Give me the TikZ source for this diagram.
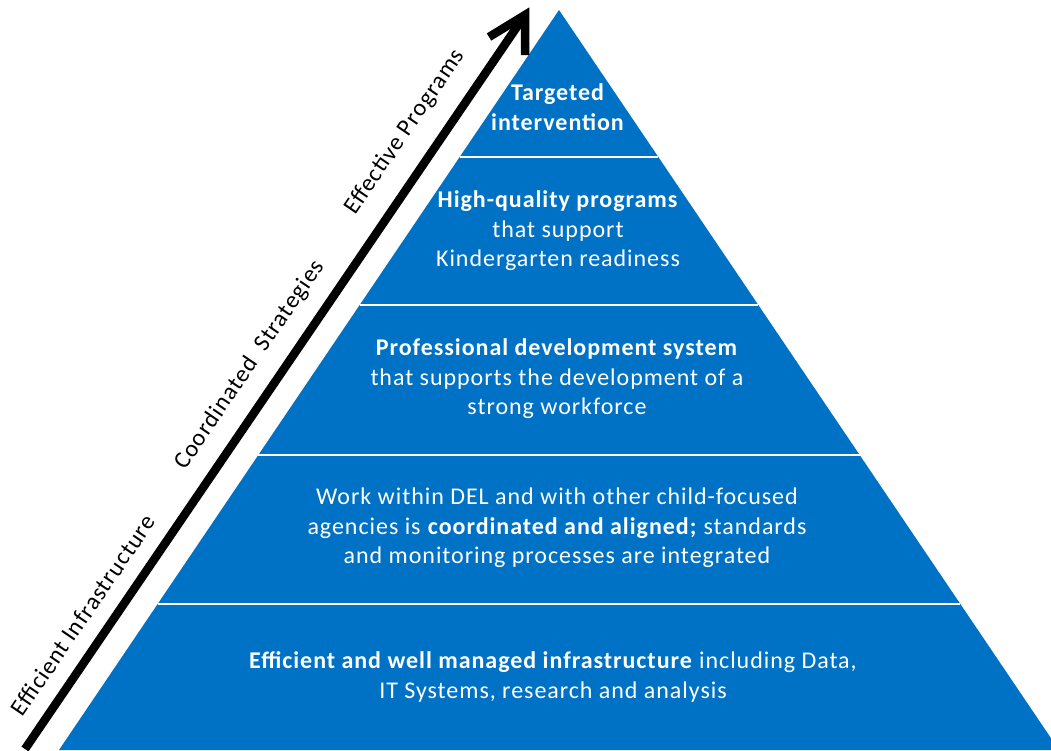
\documentclass[tikz,border=0pt]{standalone}
\usepackage{fontspec}
\setmainfont{Carlito}[LetterSpace=4]
\usetikzlibrary{calc}
\definecolor{pyrblue}{RGB}{0,114,198}
\begin{document}
\begin{tikzpicture}[x=1pt,y=-1pt,
  bandtext/.style={text=white, align=center, font=\fontsize{24}{29.5}\selectfont},
  sidelabel/.style={text=black, rotate=55.7, font=\fontsize{24}{28}\selectfont},
  divider/.style={white, line width=2.2pt},
  arrowline/.style={line width=8.5pt, black}]
\useasboundingbox (0,0) rectangle (1051,750);
\clip (0,0) rectangle (1051,750);
\fill[white] (0,0) rectangle (1051,750);
% pyramid
\coordinate (apex) at (559,10);
\coordinate (bl) at (59,750);
\coordinate (br) at (1059,750);
\fill[pyrblue] (apex) -- (bl) -- (br) -- cycle;
\foreach \t in {0.1986,0.3986,0.6014,0.8027}{
  \draw[divider] ($(apex)!\t!(bl)$) -- ($(apex)!\t!(br)$);
}
% band texts
\node[bandtext] (b1) at (558,107) {\textbf{Targeted}\\\textbf{intervention}};
\node[bandtext] (b2) at (558,231) {\textbf{High-quality programs}\\that support\\Kindergarten readiness};
\node[bandtext] (b3) at (557,379) {\textbf{Professional development system}\\that supports the development of a\\strong workforce};
\node[bandtext] (b4) at (557,528) {Work within DEL and with other child-focused\\agencies is \textbf{coordinated and aligned;} standards\\and monitoring processes are integrated};
\node[bandtext] (b5) at (553,677) {\textbf{Efficient and well managed infrastructure} including Data,\\IT Systems, research and analysis};
% arrow
\coordinate (astart) at (25,749);
\coordinate (atip) at (525,15);
\coordinate (aarm1) at (489,37);
\coordinate (aarm2) at (525,55);
\draw[arrowline, shorten >=6pt] (astart) -- (atip);
\draw[arrowline, line join=miter] (aarm1) -- (atip) -- (aarm2);
% side labels
\node[sidelabel] (l1) at (83,615) {Efficient Infrastructure};
\node[sidelabel] (l2) at (250,365) {Coordinated\ \ Strategies};
\node[sidelabel] (l3) at (405,132) {Effective Programs};
\end{tikzpicture}
\end{document}
